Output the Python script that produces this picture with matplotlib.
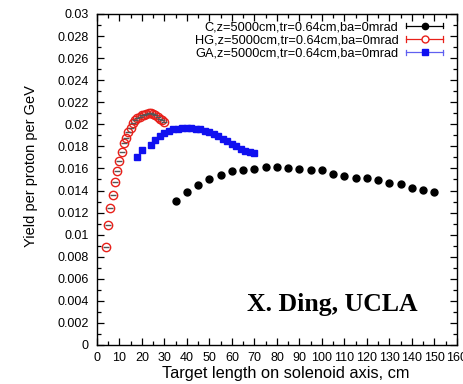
import matplotlib
matplotlib.use("Agg")
import matplotlib.pyplot as plt
from matplotlib.legend_handler import HandlerBase
from matplotlib.lines import Line2D
from matplotlib.ticker import MultipleLocator, FuncFormatter

plt.rcParams["font.family"] = ["Liberation Sans", "DejaVu Sans"]

# Carbon target
C_LEN = [35, 40, 45, 50, 55, 60, 65, 70, 75, 80, 85, 90, 95, 100,
         105, 110, 115, 120, 125, 130, 135, 140, 145, 150]
C_YIELD = [0.01303, 0.01391, 0.01452, 0.01506, 0.01545, 0.01579, 0.01588,
           0.01597, 0.01609, 0.01612, 0.01600, 0.01597, 0.01582, 0.01582,
           0.01548, 0.01536, 0.01515, 0.01509, 0.01494, 0.01464, 0.01455,
           0.01424, 0.01409, 0.01388]

# Mercury target
HG_LEN = list(range(4, 31))
HG_YIELD = [0.0089, 0.0109, 0.0124, 0.0136, 0.0148, 0.0158, 0.0167, 0.0175,
            0.0183, 0.0188, 0.0193, 0.0197, 0.0201, 0.0204, 0.0206, 0.0207,
            0.0208, 0.0208, 0.0209, 0.0210, 0.0210, 0.0209, 0.0208, 0.0207,
            0.0205, 0.0204, 0.0202]

# Gallium target
GA_LEN = [18, 20, 24, 26, 28, 30, 32, 34, 36, 38, 40, 42, 44, 46, 48, 50,
          52, 54, 56, 58, 60, 62, 64, 66, 68, 70]
GA_YIELD = [0.0170, 0.01765, 0.0181, 0.01855, 0.0189, 0.0192, 0.0194,
            0.01955, 0.0196, 0.01965, 0.0197, 0.01965, 0.0196, 0.0196,
            0.0194, 0.0193, 0.0191, 0.0189, 0.01865, 0.01845, 0.01825,
            0.0180, 0.0178, 0.0176, 0.01745, 0.0174]

LABELS = ["C,z=5000cm,tr=0.64cm,ba=0mrad",
          "HG,z=5000cm,tr=0.64cm,ba=0mrad",
          "GA,z=5000cm,tr=0.64cm,ba=0mrad"]


class CapHandler(HandlerBase):
    """gnuplot-like legend sample: line with end caps and a marker."""

    def __init__(self, marker, mfc, mec, ms, color):
        super().__init__()
        self.marker, self.mfc, self.mec, self.ms, self.color = marker, mfc, mec, ms, color

    def create_artists(self, legend, orig_handle, xdescent, ydescent,
                       width, height, fontsize, trans):
        y = height / 2 - ydescent
        x0, x1 = -xdescent, width - xdescent
        h = height * 0.3
        arts = [
            Line2D([x0, x1], [y, y], color=self.color, lw=0.9),
            Line2D([x0, x0], [y - h, y + h], color=self.color, lw=0.9),
            Line2D([x1, x1], [y - h, y + h], color=self.color, lw=0.9),
            Line2D([(x0 + x1) / 2], [y], marker=self.marker, ms=self.ms,
                   mfc=self.mfc, mec=self.mec, ls="none"),
        ]
        for a in arts:
            a.set_transform(trans)
        return arts


fig = plt.figure(figsize=(4.63, 3.84), dpi=100)
ax = fig.add_axes([0.2095, 0.1016, 0.7775, 0.862])

hc, = ax.plot(C_LEN, C_YIELD, "o", color="black", ms=5.0, mec="black")
hh, = ax.plot(HG_LEN, HG_YIELD, "o", mfc="none", mec="#e8201a", ms=6.0, mew=1.0)
ax.plot(HG_LEN, HG_YIELD, "_", color="#555555", ms=4.5, mew=1.0)
hg, = ax.plot(GA_LEN, GA_YIELD, "s", color="#1010f0", ms=4.8)

leg = ax.legend([hc, hh, hg], LABELS, loc="upper right", frameon=False,
                bbox_to_anchor=(0.962, 0.978), borderaxespad=0.0, borderpad=0.0,
                markerfirst=False, fontsize=9.2, handlelength=2.9,
                handletextpad=0.6, labelspacing=0.1,
                handler_map={
                    hc: CapHandler("o", "black", "black", 4.5, "black"),
                    hh: CapHandler("o", "white", "#e8201a", 5.0, "#e8201a"),
                    hg: CapHandler("s", "#1010f0", "#1010f0", 4.5, "#6060f0"),
                })
for t in leg.get_texts():
    t.set_ha("right")
leg._legend_box.align = "right"

ax.text(0.892, 0.121, "X. Ding, UCLA", transform=ax.transAxes, ha="right",
        va="center", fontsize=18.5, fontweight="bold",
        family=["Liberation Serif", "DejaVu Serif"])

ax.set_xlim(0, 160)
ax.set_ylim(0, 0.03)
ax.xaxis.set_major_locator(MultipleLocator(10))
ax.xaxis.set_minor_locator(MultipleLocator(5))
ax.yaxis.set_major_locator(MultipleLocator(0.002))
ax.yaxis.set_minor_locator(MultipleLocator(0.001))
ax.yaxis.set_major_formatter(FuncFormatter(lambda v, p: "0" if abs(v) < 1e-12 else f"{v:g}"))
ax.tick_params(which="both", direction="in", top=True, right=True,
               labelsize=9, width=0.9)
ax.tick_params(which="major", length=5)
ax.tick_params(which="minor", length=3)
ax.tick_params(axis="y", pad=6)
ax.tick_params(axis="x", pad=5)
for s in ax.spines.values():
    s.set_linewidth(1.0)

ax.set_xlabel("Target length on solenoid axis, cm", fontsize=11.8)
ax.set_ylabel("Yield per proton per GeV", fontsize=10.5)
ax.xaxis.set_label_coords(0.525, -0.062)
ax.yaxis.set_label_coords(-0.165, 0.54)

fig.savefig("out.png", dpi=100)
